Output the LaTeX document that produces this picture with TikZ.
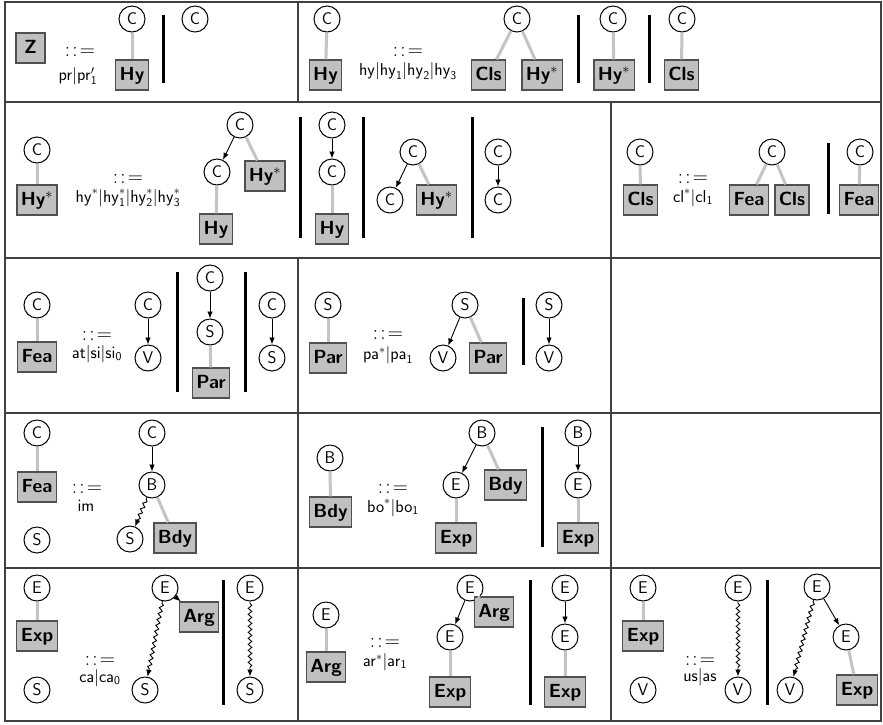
\documentclass[tikz,border=0pt]{standalone}
\usetikzlibrary{arrows.meta,decorations.pathmorphing}
\definecolor{boxfill}{HTML}{C0C0C0}
\definecolor{boxline}{HTML}{505050}
\definecolor{glink}{HTML}{C4C4C4}
\definecolor{gridc}{HTML}{404040}
\newcommand{\msf}[1]{\mathsf{#1}}
\newcommand{\bnfeq}{:\kern2.2pt:\kern2.2pt=}
\newcommand{\hys}{Hy$^{*}$}
\begin{document}
\begin{tikzpicture}[x=1pt,y=-1pt,
 cir/.style={circle,draw,line width=1pt,minimum size=26pt,inner sep=0pt,fill=white,font=\sffamily\fontsize{17}{17}\selectfont},
 bx/.style={rectangle,draw=boxline,line width=1.3pt,fill=boxfill,minimum height=30pt,minimum width=29pt,inner xsep=4pt,text height=13.5pt,text depth=3.5pt,font=\sffamily\bfseries\fontsize{19}{19}\selectfont},
 eqs/.style={inner sep=0pt,font=\fontsize{21}{21}\selectfont},
 lab/.style={inner sep=0pt,font=\fontsize{18.5}{19}\selectfont},
 gl/.style={draw=glink,line width=3pt},
 ar/.style={draw,line width=0.9pt,-{Latex[length=7pt,width=5.5pt]}},
 wv/.style={draw,line width=0.9pt,-{Latex[length=7pt,width=5.5pt]},decorate,decoration={snake,amplitude=1.8pt,segment length=6pt,pre length=2pt,post length=7pt}},
 sepbar/.style={line width=3pt},
 tabline/.style={draw=gridc,line width=1.4pt}]
\useasboundingbox (0,0) rectangle (883,724);
% table
\draw[tabline] (5,2) rectangle (881,721);
\draw[tabline] (5,102) -- (881,102);
\draw[tabline] (5,258) -- (881,258);
\draw[tabline] (5,413) -- (881,413);
\draw[tabline] (5,568) -- (881,568);
\draw[tabline] (298,2) -- (298,102);
\draw[tabline] (298,258) -- (298,721);
\draw[tabline] (611,102) -- (611,721);
% ---------- row 1
\node[bx] (z) at (30.5,48) {Z};
\node[eqs] (q1) at (80,52) {\bnfeq};
\node[lab] (l1) at (78,76) {$\msf{pr}|\msf{pr}'_{\msf{1}}$};
\node[cir] (c1) at (132,19) {C};
\node[bx] (hy1) at (132,75) {Hy};
\draw[sepbar] (163,15) -- (163,83);
\node[cir] (c2) at (195,19) {C};
\node[cir] (c3) at (327,19) {C};
\node[bx] (hy2) at (325.5,75) {Hy};
\node[eqs] (q2) at (408,52) {\bnfeq};
\node[lab] (l2) at (408,71) {$\msf{hy}|\msf{hy}_{\msf{1}}|\msf{hy}_{\msf{2}}|\msf{hy}_{\msf{3}}$};
\node[cir] (c4) at (517,19) {C};
\node[bx] (cls1) at (488.5,75) {Cls};
\node[bx] (hs1) at (542,75) {\hys};
\draw[sepbar] (578,15) -- (578,83);
\node[cir] (c5) at (613,19) {C};
\node[bx] (hs2) at (614,75) {\hys};
\draw[sepbar] (649,15) -- (649,83);
\node[cir] (c6) at (682,19) {C};
\node[bx] (cls2) at (681.5,75) {Cls};
\draw[gl] (c1) -- (hy1);
\draw[gl] (c3) -- (hy2);
\draw[gl] (c4) -- (cls1);
\draw[gl] (c4) -- (hs1);
\draw[gl] (c5) -- (hs2);
\draw[gl] (c6) -- (cls2);
% ---------- row 2
\node[cir] (c7) at (37,150) {C};
\node[bx] (hs3) at (37,200) {\hys};
\node[eqs] (q3) at (128,179) {\bnfeq};
\node[lab] (l3) at (128,198) {$\msf{hy}^*|\msf{hy}^*_{\msf{1}}|\msf{hy}^*_{\msf{2}}|\msf{hy}^*_{\msf{3}}$};
\node[cir] (c8) at (240,125) {C};
\node[cir] (c9) at (217,172) {C};
\node[bx] (hs4) at (265,176) {\hys};
\node[bx] (hy3) at (216,229) {Hy};
\draw[sepbar] (300,117) -- (300,238);
\node[cir] (c10) at (332,125) {C};
\node[cir] (c11) at (332,172) {C};
\node[bx] (hy4) at (332,229) {Hy};
\draw[sepbar] (363,117) -- (363,238);
\node[cir] (c12) at (413,152) {C};
\node[cir] (c13) at (390,200) {C};
\node[bx] (hs5) at (436.5,200) {\hys};
\draw[sepbar] (472,117) -- (472,238);
\node[cir] (c14) at (498,152) {C};
\node[cir] (c15) at (498,200) {C};
\node[cir] (c16) at (640,152) {C};
\node[bx] (cls3) at (640.5,200) {Cls};
\node[eqs] (q4) at (693,179) {\bnfeq};
\node[lab] (l4) at (693,198) {$\msf{cl}^*|\msf{cl}_{\msf{1}}$};
\node[cir] (c17) at (772,152) {C};
\node[bx] (fea1) at (749,200) {Fea};
\node[bx] (cls4) at (792,200) {Cls};
\draw[sepbar] (828,143) -- (828,214);
\node[cir] (c18) at (860,152) {C};
\node[bx] (fea2) at (859,200) {Fea};
\draw[gl] (c7) -- (hs3);
\draw[ar] (c8) -- (c9);
\draw[gl] (c8) -- (hs4);
\draw[gl] (c9) -- (hy3);
\draw[ar] (c10) -- (c11);
\draw[gl] (c11) -- (hy4);
\draw[ar] (c12) -- (c13);
\draw[gl] (c12) -- (hs5);
\draw[ar] (c14) -- (c15);
\draw[gl] (c16) -- (cls3);
\draw[gl] (c17) -- (fea1);
\draw[gl] (c17) -- (cls4);
\draw[gl] (c18) -- (fea2);
% ---------- row 3
\node[cir] (c19) at (37,305) {C};
\node[bx] (fea3) at (37,357) {Fea};
\node[eqs] (q5) at (97,336) {\bnfeq};
\node[lab] (l5) at (97,354) {$\msf{at}|\msf{si}|\msf{si}_{\msf{0}}$};
\node[cir] (c20) at (148,305) {C};
\node[cir] (v1) at (148,358) {V};
\draw[sepbar] (177,272) -- (177,392);
\node[cir] (c21) at (210,278) {C};
\node[cir] (s1) at (210,332) {S};
\node[bx] (par1) at (211,383) {Par};
\draw[sepbar] (245,272) -- (245,392);
\node[cir] (c22) at (272,305) {C};
\node[cir] (s2) at (272,358) {S};
\node[cir] (s3) at (328,305) {S};
\node[bx] (par2) at (328,358) {Par};
\node[eqs] (q6) at (388,335) {\bnfeq};
\node[lab] (l6) at (388,355) {$\msf{pa}^*|\msf{pa}_{\msf{1}}$};
\node[cir] (s4) at (465,305) {S};
\node[cir] (v2) at (443,358) {V};
\node[bx] (par3) at (488,358) {Par};
\draw[sepbar] (523,298) -- (523,365);
\node[cir] (s5) at (549,305) {S};
\node[cir] (v3) at (549,358) {V};
\draw[gl] (c19) -- (fea3);
\draw[ar] (c20) -- (v1);
\draw[ar] (c21) -- (s1);
\draw[gl] (s1) -- (par1);
\draw[ar] (c22) -- (s2);
\draw[gl] (s3) -- (par2);
\draw[ar] (s4) -- (v2);
\draw[gl] (s4) -- (par3);
\draw[ar] (s5) -- (v3);
% ---------- row 4
\node[cir] (c23) at (37,433) {C};
\node[bx] (fea4) at (37,487) {Fea};
\node[cir] (s6) at (37,540) {S};
\node[eqs] (q7) at (87,489) {\bnfeq};
\node[lab] (l7) at (86,506) {$\msf{im}$};
\node[cir] (c24) at (152,433) {C};
\node[cir] (b1) at (152,485) {B};
\node[cir] (s7) at (130,539) {S};
\node[bx] (bdy1) at (175,538) {Bdy};
\node[cir] (b2) at (330,458) {B};
\node[bx] (bdy2) at (330.5,512) {Bdy};
\node[eqs] (q8) at (393,489) {\bnfeq};
\node[lab] (l8) at (393,508) {$\msf{bo}^*|\msf{bo}_{\msf{1}}$};
\node[cir] (b3) at (482,433) {B};
\node[cir] (e1) at (456,485) {E};
\node[bx] (bdy3) at (505.5,485) {Bdy};
\node[bx] (exp1) at (456,538) {Exp};
\draw[sepbar] (542,427) -- (542,547);
\node[cir] (b4) at (578,433) {B};
\node[cir] (e2) at (578,485) {E};
\node[bx] (exp2) at (578,538) {Exp};
\draw[gl] (c23) -- (fea4);
\draw[ar] (c24) -- (b1);
\draw[wv] (b1) -- (s7);
\draw[gl] (b1) -- (bdy1);
\draw[gl] (b2) -- (bdy2);
\draw[ar] (b3) -- (e1);
\draw[gl] (b3) -- (bdy3);
\draw[gl] (e1) -- (exp1);
\draw[ar] (b4) -- (e2);
\draw[gl] (e2) -- (exp2);
% ---------- row 5
\node[cir] (e3) at (37,588) {E};
\node[bx] (exp3) at (37,636) {Exp};
\node[cir] (s8) at (37,690) {S};
\node[eqs] (q9) at (100,661) {\bnfeq};
\node[lab] (l9) at (100,678) {$\msf{ca}|\msf{ca}_{\msf{0}}$};
\node[cir] (e4) at (165,588) {E};
\node[bx] (arg1) at (199,617) {Arg};
\node[cir] (s9) at (145,690) {S};
\draw[sepbar] (223,580) -- (223,705);
\node[cir] (e5) at (250,588) {E};
\node[cir] (s10) at (250,690) {S};
\node[cir] (e6) at (326,615) {E};
\node[bx] (arg2) at (326,667) {Arg};
\node[eqs] (q10) at (385,643) {\bnfeq};
\node[lab] (l10) at (385,662) {$\msf{ar}^*|\msf{ar}_{\msf{1}}$};
\node[cir] (e7) at (470,588) {E};
\node[cir] (e8) at (450,637) {E};
\node[bx] (arg3) at (494,612) {Arg};
\node[bx] (exp4) at (450,692) {Exp};
\draw[sepbar] (530,580) -- (530,705);
\node[cir] (e9) at (565,588) {E};
\node[cir] (e10) at (565,637) {E};
\node[bx] (exp5) at (565,692) {Exp};
\node[cir] (e11) at (643,588) {E};
\node[bx] (exp6) at (643,636) {Exp};
\node[cir] (v4) at (643,690) {V};
\node[eqs] (q11) at (700,661) {\bnfeq};
\node[lab] (l11) at (700,677) {$\msf{us}|\msf{as}$};
\node[cir] (e12) at (738,588) {E};
\node[cir] (v5) at (738,690) {V};
\draw[sepbar] (767,580) -- (767,705);
\node[cir] (e13) at (817,587) {E};
\node[cir] (v6) at (790,690) {V};
\node[cir] (e14) at (846,637) {E};
\node[bx] (exp7) at (857,690) {Exp};
\draw[gl] (e3) -- (exp3);
\draw[ar] (e4) -- (arg1);
\draw[wv] (e4) -- (s9);
\draw[wv] (e5) -- (s10);
\draw[gl] (e6) -- (arg2);
\draw[ar] (e7) -- (e8);
\draw[gl] (e7) -- (arg3);
\draw[gl] (e8) -- (exp4);
\draw[ar] (e9) -- (e10);
\draw[gl] (e10) -- (exp5);
\draw[gl] (e11) -- (exp6);
\draw[wv] (e12) -- (v5);
\draw[wv] (e13) -- (v6);
\draw[ar] (e13) -- (e14);
\draw[gl] (e14) -- (exp7);
\end{tikzpicture}
\end{document}
